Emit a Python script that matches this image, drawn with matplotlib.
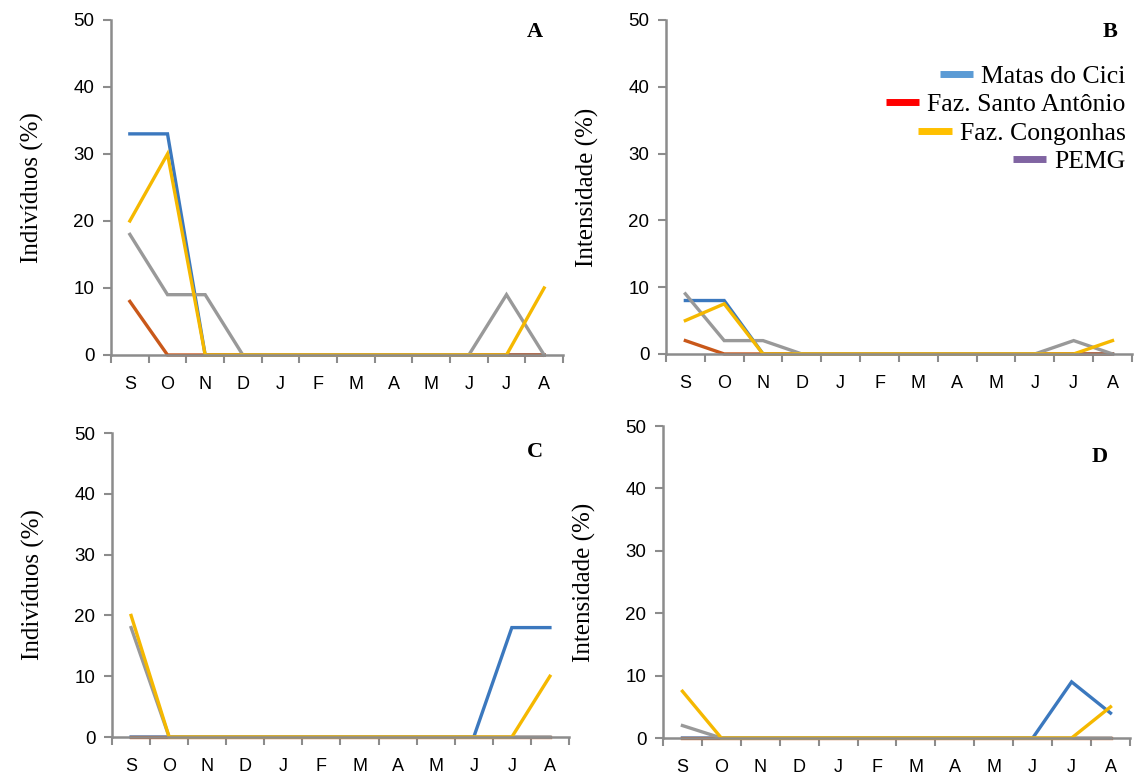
import matplotlib
matplotlib.use("Agg")
import matplotlib.pyplot as plt
import numpy as np
from matplotlib.lines import Line2D

months = ["S", "O", "N", "D", "J", "F", "M", "A", "M", "J", "J", "A"]
series_names = ["Matas do Cici", "Faz. Santo Antônio", "PEMG", "Faz. Congonhas"]

# Panel A - Indivíduos (%)
a_cici      = [33, 33, 0, 0, 0, 0, 0, 0, 0, 0, 0, 0]
a_santo     = [8, 0, 0, 0, 0, 0, 0, 0, 0, 0, 0, 0]
a_pemg      = [18, 9, 9, 0, 0, 0, 0, 0, 0, 0, 9, 0]
a_congonhas = [20, 30, 0, 0, 0, 0, 0, 0, 0, 0, 0, 10]

# Panel B - Intensidade (%)
b_cici      = [8, 8, 0, 0, 0, 0, 0, 0, 0, 0, 0, 0]
b_santo     = [2, 0, 0, 0, 0, 0, 0, 0, 0, 0, 0, 0]
b_pemg      = [9, 2, 2, 0, 0, 0, 0, 0, 0, 0, 2, 0]
b_congonhas = [5, 7.5, 0, 0, 0, 0, 0, 0, 0, 0, 0, 2]

# Panel C - Indivíduos (%)
c_cici      = [0, 0, 0, 0, 0, 0, 0, 0, 0, 0, 18, 18]
c_santo     = [0, 0, 0, 0, 0, 0, 0, 0, 0, 0, 0, 0]
c_pemg      = [18, 0, 0, 0, 0, 0, 0, 0, 0, 0, 0, 0]
c_congonhas = [20, 0, 0, 0, 0, 0, 0, 0, 0, 0, 0, 10]

# Panel D - Intensidade (%)
d_cici      = [0, 0, 0, 0, 0, 0, 0, 0, 0, 0, 9, 4]
d_santo     = [0, 0, 0, 0, 0, 0, 0, 0, 0, 0, 0, 0]
d_pemg      = [2, 0, 0, 0, 0, 0, 0, 0, 0, 0, 0, 0]
d_congonhas = [7.5, 0, 0, 0, 0, 0, 0, 0, 0, 0, 0, 5]

line_colors = ["#3B78BE", "#C9581A", "#999999", "#F5B800"]
legend_labels = ["Matas do Cici", "Faz. Santo Antônio", "Faz. Congonhas", "PEMG"]
legend_colors = ["#5B9BD5", "#FF0000", "#FFC000", "#8064A2"]

panels = [
    ("A", "Indivíduos (%)", [a_cici, a_santo, a_pemg, a_congonhas], [0.0967, 0.5449, 0.3937, 0.4295]),
    ("B", "Intensidade (%)", [b_cici, b_santo, b_pemg, b_congonhas], [0.5801, 0.5462, 0.4059, 0.4282]),
    ("C", "Indivíduos (%)", [c_cici, c_santo, c_pemg, c_congonhas], [0.0976, 0.0551, 0.3980, 0.3897]),
    ("D", "Intensidade (%)", [d_cici, d_santo, d_pemg, d_congonhas], [0.5775, 0.0538, 0.4068, 0.4000]),
]

serif = ["Liberation Serif", "DejaVu Serif"]
sans = ["Liberation Sans", "DejaVu Sans"]
spine_color = "#8C8C8C"

fig = plt.figure(figsize=(11.48, 7.8), dpi=100)
x = np.arange(len(months))

axes = {}
for letter, ylabel, data, rect in panels:
    ax = fig.add_axes(rect)
    axes[letter] = ax
    for vals, col in zip(data, line_colors):
        ax.plot(x, vals, color=col, lw=2.4, solid_joinstyle="miter", clip_on=False)
    ax.set_xlim(-0.5, len(months) - 0.5)
    ax.set_ylim(0, 50)
    ax.set_yticks([0, 10, 20, 30, 40, 50])
    ax.set_xticks(x)
    ax.set_xticklabels(months, fontfamily=sans, fontsize=13)
    ax.set_xticks(np.arange(-0.5, len(months)), minor=True)
    ax.tick_params(axis="x", which="major", length=0, pad=15)
    ax.tick_params(axis="x", which="minor", length=6, width=1.5, color=spine_color, direction="out")
    ax.tick_params(axis="y", length=6, width=1.5, color=spine_color, direction="out", pad=6,
                   labelsize=13.5)
    for lab in ax.get_yticklabels():
        lab.set_fontfamily(sans)
    for s in ["top", "right"]:
        ax.spines[s].set_visible(False)
    for s in ["left", "bottom"]:
        ax.spines[s].set_color(spine_color)
        ax.spines[s].set_linewidth(1.8)
    ax.set_ylabel(ylabel, fontfamily=serif, fontsize=18, labelpad=21)
    ax.patch.set_alpha(0)

# panel letters
fig.text(535 / 1148, 1 - 32 / 780, "A", fontfamily=serif, fontsize=16, fontweight="bold", ha="center", va="center")
fig.text(1110 / 1148, 1 - 32 / 780, "B", fontfamily=serif, fontsize=16, fontweight="bold", ha="center", va="center")
fig.text(535 / 1148, 1 - 452 / 780, "C", fontfamily=serif, fontsize=16, fontweight="bold", ha="center", va="center")
fig.text(1100 / 1148, 1 - 457 / 780, "D", fontfamily=serif, fontsize=16, fontweight="bold", ha="center", va="center")

# legend in panel B (right-aligned entries)
handles = [Line2D([], [], color=c, lw=5, solid_capstyle="butt") for c in legend_colors]
leg = axes["B"].legend(handles, legend_labels, loc="upper right", bbox_to_anchor=(1.008, 0.895),
                       frameon=False, handlelength=1.3, handletextpad=0.3, labelspacing=0.2,
                       borderaxespad=0.0, prop={"family": serif, "size": 18.5})
try:
    for col in leg._legend_handle_box.get_children():
        col.align = "right"
except Exception:
    pass

fig.savefig("out.png", dpi=100)
